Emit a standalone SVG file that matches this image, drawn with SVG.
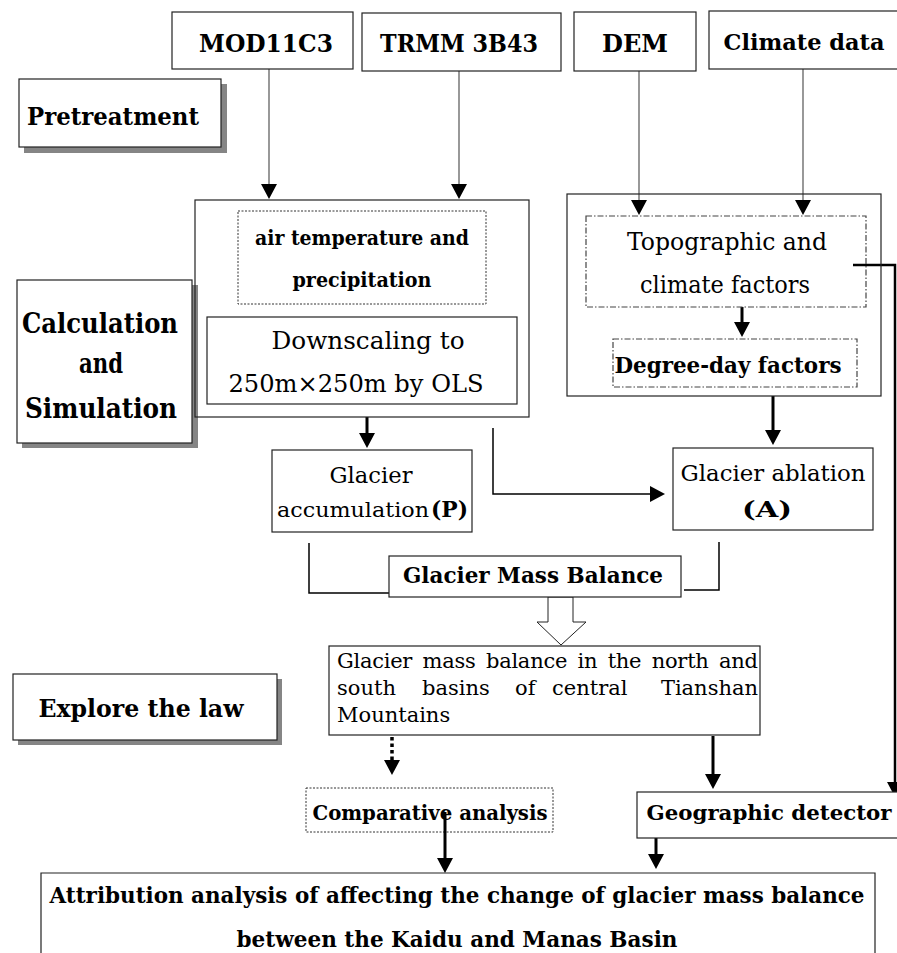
<svg xmlns="http://www.w3.org/2000/svg" width="897" height="953" viewBox="0 0 897 953">
<defs>
<style>
.bg{fill:#fff}
.box{fill:#fff;stroke:#222;stroke-width:1.2}
.shadow{fill:#858585}
.dotted{fill:#fff;stroke:#333;stroke-width:1;stroke-dasharray:2 1.5}
.dashdot{fill:none;stroke:#444;stroke-width:1.2;stroke-dasharray:6 2 1.5 2}
.t{font-family:"DejaVu Serif","Liberation Serif",serif;fill:#000;text-anchor:middle}
.l{text-anchor:start}
.e{text-anchor:end}
.b{font-weight:bold}
.thin{stroke:#444;stroke-width:1.1;fill:none}
.mid{stroke:#000;stroke-width:1.5;fill:none}
.thick{stroke:#000;stroke-width:3;fill:none}
.dots{stroke:#000;stroke-width:3.5;fill:none;stroke-dasharray:3.5 3}
.hollow{fill:#fff;stroke:#222;stroke-width:1}
</style>
<marker id="ah" viewBox="0 0 10 10" refX="0" refY="5" markerWidth="15" markerHeight="16" markerUnits="userSpaceOnUse" orient="auto" preserveAspectRatio="none">
<path d="M0,0 L10,5 L0,10 z" fill="#000"/>
</marker>
</defs>
<rect class="bg" x="0" y="0" width="897" height="953"/>

<g id="labels-left">
<g id="pretreatment">
<rect class="shadow" x="24" y="84" width="203" height="69"/>
<rect class="box" x="19" y="79" width="202" height="68"/>
<text class="t b" x="113" y="125" font-size="24" textLength="172" lengthAdjust="spacingAndGlyphs">Pretreatment</text>
</g>
<g id="calculation">
<rect class="shadow" x="22" y="285" width="176" height="163"/>
<rect class="box" x="17" y="280" width="175" height="163"/>
<text class="t b" x="100" y="333" font-size="28" textLength="156" lengthAdjust="spacingAndGlyphs">Calculation</text>
<text class="t b" x="101" y="373" font-size="28" textLength="44" lengthAdjust="spacingAndGlyphs">and</text>
<text class="t b" x="101" y="418" font-size="28" textLength="152" lengthAdjust="spacingAndGlyphs">Simulation</text>
</g>
<g id="explore">
<rect class="shadow" x="18" y="679" width="264" height="66"/>
<rect class="box" x="13" y="674" width="264" height="66"/>
<text class="t b" x="141" y="717" font-size="24" textLength="205" lengthAdjust="spacingAndGlyphs">Explore the law</text>
</g>
</g>

<g id="connectors">
<line class="thin" x1="269" y1="69" x2="269" y2="184" marker-end="url(#ah)"/>
<line class="thin" x1="459" y1="71" x2="459" y2="184" marker-end="url(#ah)"/>
<line class="thin" x1="639" y1="71" x2="639" y2="200" marker-end="url(#ah)"/>
<line class="thin" x1="803" y1="69" x2="803" y2="200" marker-end="url(#ah)"/>
<line class="thick" x1="742" y1="307" x2="742" y2="322" marker-end="url(#ah)"/>
<line class="thick" x1="367" y1="417" x2="367" y2="433" marker-end="url(#ah)"/>
<line class="thick" x1="773" y1="396" x2="773" y2="430" marker-end="url(#ah)"/>
<polyline class="mid" points="493,428 493,494 650,494" marker-end="url(#ah)"/>
<polyline class="mid" points="309,543 309,593 389,593"/>
<polyline class="mid" points="684,590 719,590 719,542"/>
<polygon class="hollow" points="548,597 548,622 537,622 561,645 586,622 573,622 573,597"/>
<line class="dots" x1="392" y1="737" x2="392" y2="760" marker-end="url(#ah)"/>
<line class="thick" x1="713" y1="736" x2="713" y2="774" marker-end="url(#ah)"/>
<polyline class="thick" style="stroke-width:2.5" points="853,265 895,265 895,782" marker-end="url(#ah)"/>
<line class="thick" x1="656" y1="838" x2="656" y2="854" marker-end="url(#ah)"/>
</g>

<g id="mod11c3">
<rect class="box" x="172" y="12" width="181" height="57"/>
<text class="t b" x="266" y="52" font-size="25" textLength="134" lengthAdjust="spacingAndGlyphs">MOD11C3</text>
</g>
<g id="trmm">
<rect class="box" x="362" y="13" width="199" height="58"/>
<text class="t b" x="459" y="52" font-size="25" textLength="158" lengthAdjust="spacingAndGlyphs">TRMM 3B43</text>
</g>
<g id="dem">
<rect class="box" x="574" y="12" width="122" height="59"/>
<text class="t b" x="635" y="52" font-size="25" textLength="66" lengthAdjust="spacingAndGlyphs">DEM</text>
</g>
<g id="climate">
<rect class="box" x="709" y="11" width="195" height="58"/>
<text class="t b" x="804" y="50" font-size="23" textLength="161" lengthAdjust="spacingAndGlyphs">Climate data</text>
</g>

<g id="left-panel">
<rect class="box" x="195" y="200" width="334" height="217" style="fill:none"/>
<g id="airtemp">
<rect class="dotted" x="238" y="211" width="248" height="93"/>
<text class="t b" x="362" y="245" font-size="20" textLength="214" lengthAdjust="spacingAndGlyphs">air temperature and</text>
<text class="t b" x="362" y="287" font-size="20" textLength="139" lengthAdjust="spacingAndGlyphs">precipitation</text>
</g>
<g id="downscaling">
<rect class="box" x="207" y="317" width="310" height="87"/>
<text class="t" x="368" y="349" font-size="25" textLength="193" lengthAdjust="spacingAndGlyphs">Downscaling to</text>
<text class="t" x="356" y="392" font-size="25" textLength="255" lengthAdjust="spacingAndGlyphs">250m×250m by OLS</text>
</g>
</g>

<g id="right-panel">
<rect class="box" x="567" y="194" width="314" height="202" style="fill:none"/>
<g id="topographic">
<rect class="dashdot" x="586" y="216" width="280" height="91"/>
<text class="t" x="727" y="250" font-size="25" textLength="200" lengthAdjust="spacingAndGlyphs">Topographic and</text>
<text class="t" x="725" y="293" font-size="25" textLength="170" lengthAdjust="spacingAndGlyphs">climate factors</text>
</g>
<g id="degreeday">
<rect class="dashdot" x="613" y="339" width="244" height="48"/>
<text class="t b" x="728" y="373" font-size="22" textLength="227" lengthAdjust="spacingAndGlyphs">Degree-day factors</text>
</g>
</g>

<g id="accumulation">
<rect class="box" x="272" y="450" width="200" height="82"/>
<text class="t" x="371" y="483" font-size="23" textLength="83" lengthAdjust="spacingAndGlyphs">Glacier</text>
<text class="t l" x="277" y="517" font-size="21" textLength="152" lengthAdjust="spacingAndGlyphs">accumulation</text>
<text class="t b l" x="431" y="517" font-size="22" textLength="37" lengthAdjust="spacingAndGlyphs">(P)</text>
</g>
<g id="ablation">
<rect class="box" x="673" y="448" width="200" height="82"/>
<text class="t" x="773" y="481" font-size="23" textLength="185" lengthAdjust="spacingAndGlyphs">Glacier ablation</text>
<text class="t b" x="767" y="517" font-size="23" textLength="50" lengthAdjust="spacingAndGlyphs">(A)</text>
</g>
<g id="gmb">
<rect class="box" x="389" y="556" width="292" height="41"/>
<text class="t b" x="533" y="583" font-size="22" textLength="260" lengthAdjust="spacingAndGlyphs">Glacier Mass Balance</text>
</g>

<g id="massbalance">
<rect class="box" x="329" y="646" width="431" height="89"/>
<text class="t l" x="337" y="668" font-size="21" textLength="421" lengthAdjust="spacing" word-spacing="4">Glacier mass balance in the north and</text>
<text class="t l" y="695" font-size="21"><tspan x="337">south</tspan><tspan x="422">basins</tspan><tspan x="515">of</tspan><tspan x="552">central</tspan></text>
<text class="t e" x="758" y="695" font-size="21">Tianshan</text>
<text class="t l" x="337" y="722" font-size="21">Mountains</text>
</g>

<g id="comparative">
<rect class="dotted" x="306" y="788" width="247" height="44"/>
<text class="t b" x="430" y="820" font-size="20" textLength="235" lengthAdjust="spacingAndGlyphs">Comparative analysis</text>
</g>
<g id="geographic">
<rect class="box" x="637" y="792" width="270" height="46"/>
<text class="t b" x="769" y="820" font-size="21" textLength="245" lengthAdjust="spacingAndGlyphs">Geographic detector</text>
</g>

<g id="arrow-over">
<line class="thick" x1="445" y1="812" x2="445" y2="858" marker-end="url(#ah)"/>
</g>

<g id="attribution">
<path class="box" d="M41,960 L41,873 L875,873 L875,960"/>
<text class="t b" x="457" y="903" font-size="22" textLength="815" lengthAdjust="spacingAndGlyphs">Attribution analysis of affecting the change of glacier mass balance</text>
<text class="t b" x="457" y="947" font-size="22" textLength="441" lengthAdjust="spacingAndGlyphs">between the Kaidu and Manas Basin</text>
</g>
</svg>
